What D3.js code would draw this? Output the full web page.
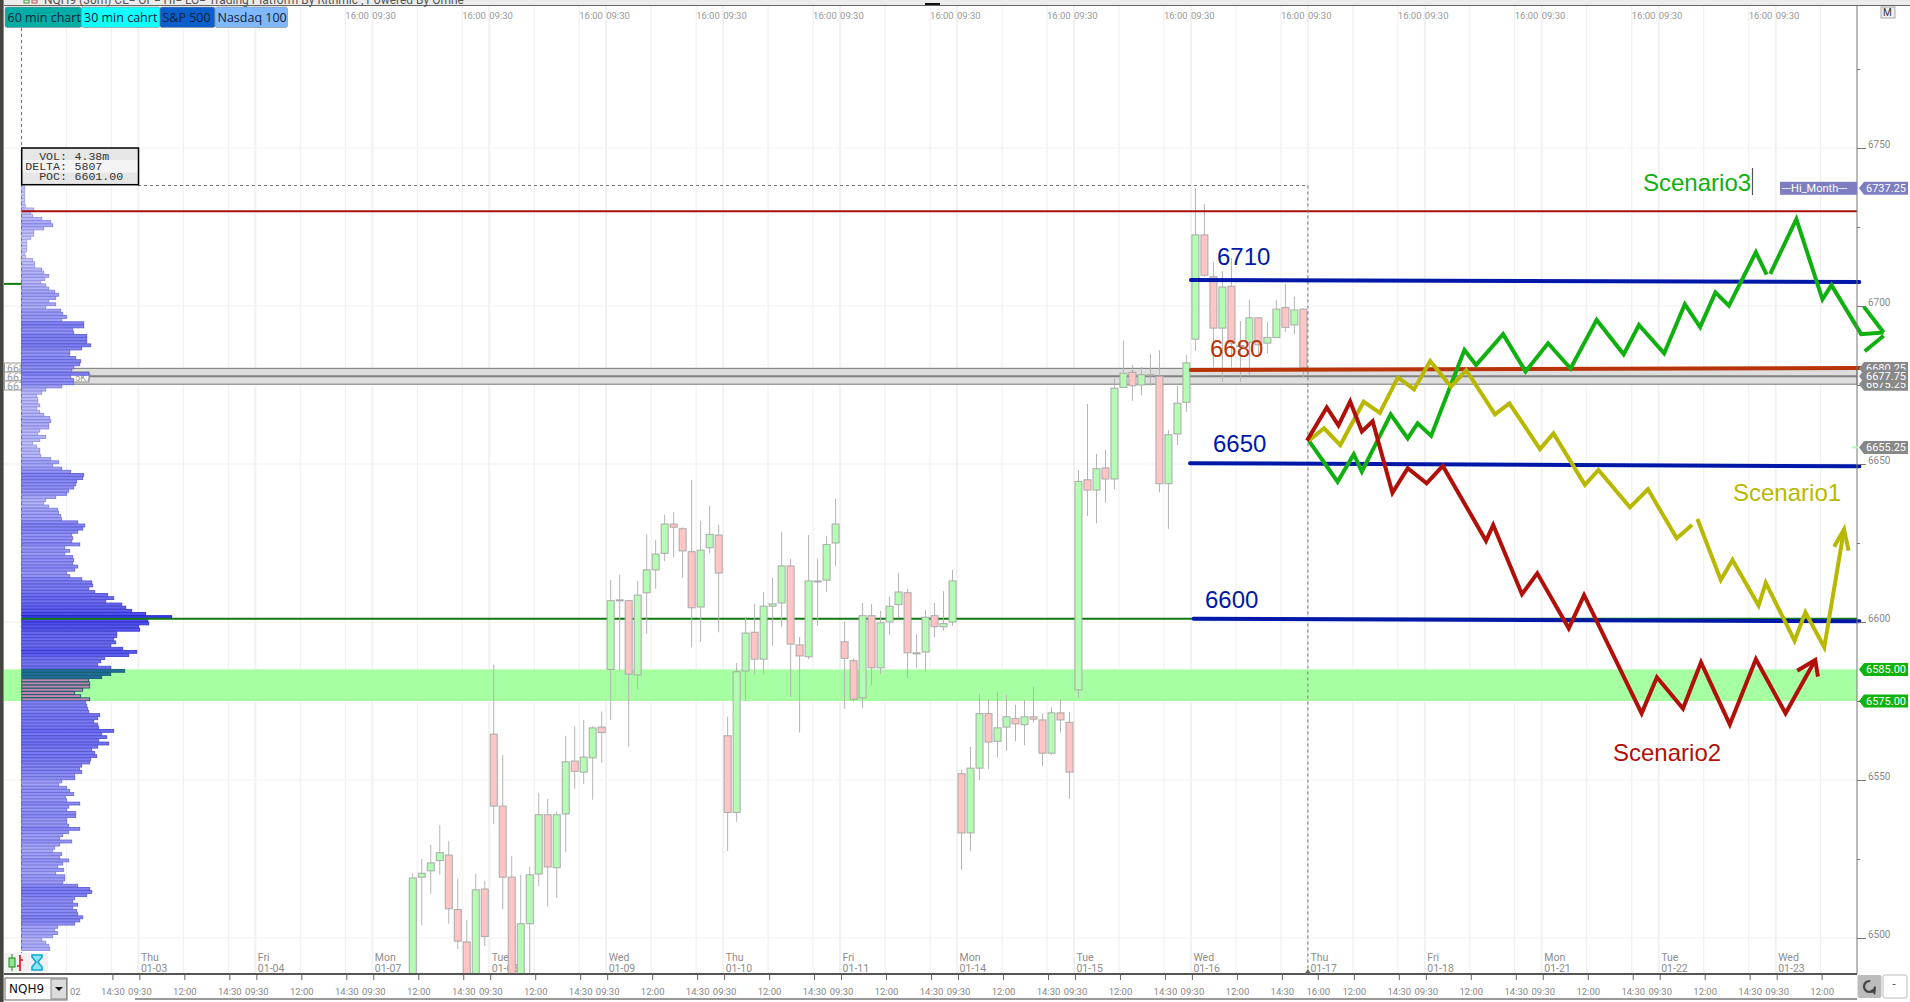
<!DOCTYPE html>
<html>
<head>
<meta charset="utf-8">
<title>NQH9 30 min scenarios</title>
<style>
  html, body { margin: 0; padding: 0; background: #fff; }
  svg { display: block; }
  text { font-family: Roboto, "Liberation Sans", sans-serif; }
  .note { font-family: "Liberation Sans", sans-serif; font-size: 24px; }
  .mono { font-family: "Liberation Mono", monospace; font-size: 11.6px; fill: #333; }
</style>
<script src="https://d3js.org/d3.v7.min.js"></script>
</head>
<body>
<svg id="chart" width="1910" height="1002"></svg>
<script>
// sessions on the time axis, 13 bars of 30 min each, index 0 = 01-03 09:30
const dayNames = ["Thu","Fri","Mon","Tue","Wed","Thu","Fri","Mon","Tue","Wed","Thu","Fri","Mon","Tue","Wed"];
const dayDates = ["01-03","01-04","01-07","01-08","01-09","01-10","01-11","01-14","01-15","01-16","01-17","01-18","01-21","01-22","01-23"];
const sessionTimes = ["09:30","12:00","14:30"];
const sessionOffsets = [0, 5, 10];
const priceLabels = [6500, 6550, 6600, 6650, 6700, 6750];
const priceMinor = [6525, 6575, 6625, 6675, 6725, 6775];

// candles: open, high, low, close
const firstBar = 30;
const bars0107 = [
  [6480.5,6520.5,6480,6519],[6519.25,6525,6504,6520.5],[6521.25,6529.5,6514,6523.75],[6524.5,6535.75,6520,6527],
  [6526.25,6530.75,6504.5,6509.25],[6509,6518.75,6496.5,6499],[6498.75,6505.75,6480,6483.5],[6485,6520.25,6480,6515.25],
  [6515.5,6518,6497.5,6500.5]];
const bars0108 = [
  [6564.5,6586.5,6536,6541.75],[6541.75,6558,6509,6519.25],[6519.25,6526,6480,6482],[6482,6520,6480,6504.5],
  [6504.5,6522.5,6480,6520],[6520.25,6546,6516.5,6539],[6539,6544,6510,6522.5],[6522.25,6540,6512.75,6539],
  [6539.25,6564,6527.25,6555.75],[6556,6567,6547.25,6552.75],[6552.5,6569,6548.75,6557.25],[6557,6567,6543.75,6566.5],
  [6566.75,6571.75,6555.5,6565]];
const bars0109 = [
  [6585,6613.25,6569,6606.75],[6606.75,6615,6584.75,6607],[6606.75,6607,6560.5,6583.5],[6583.25,6613,6578.75,6608.5],
  [6609.25,6627.75,6596.25,6616.5],[6616.5,6626,6610.5,6621.5],[6621.75,6634,6619.25,6631],[6631,6634.75,6620.5,6630],
  [6629.5,6630,6614,6622.5],[6622.25,6645,6592,6604.5],[6604.75,6632,6593.75,6622.75],[6623.5,6636.75,6621.75,6627.75],
  [6627.5,6630.75,6596.75,6615.5]];
const bars0110 = [
  [6564,6570,6527.5,6539.75],[6539.75,6587,6536.75,6584.25],[6584.5,6601.5,6575,6596.5],[6596.75,6605.75,6583.5,6588.25],
  [6588.25,6609.5,6583.5,6605],[6605,6614,6592.5,6605.75],[6606,6628.5,6598.5,6617.75],[6617.75,6620,6576.25,6593],
  [6592.75,6595.25,6565,6589.25],[6589,6627.5,6588.25,6613],[6613,6620,6598.75,6612.75],[6613.25,6627.25,6609.5,6624.5],
  [6625,6639,6617.75,6631]];
const bars0111 = [
  [6593.75,6600.25,6572.5,6588.5],[6587.75,6588.5,6574.75,6575.5],[6576,6606,6572.75,6602],[6602,6605.75,6580,6585.5],
  [6585.5,6603.5,6583.5,6599.75],[6600,6608,6596,6605],[6605.5,6615.5,6601.25,6609.5],[6609.25,6610.5,6582.25,6590.25],
  [6590.25,6596,6585.5,6590],[6590.5,6603.75,6584.25,6601.5],[6602,6606,6595.25,6598.5],[6598.5,6609.75,6597.25,6599.5],
  [6600,6616.5,6598.75,6613]];
const bars0114 = [
  [6552,6553.25,6521.5,6533.25],[6533.25,6560.5,6527.5,6553.75],[6553.75,6577.25,6550,6571],[6571,6575.5,6553.5,6562],
  [6562.25,6577.75,6557.25,6566.5],[6566.75,6577,6559.25,6570],[6569.5,6573.75,6562.25,6567.75],[6567.5,6575.25,6561,6570],
  [6570,6579.5,6568.25,6569.25],[6569,6571,6554.5,6558.5],[6558.5,6573,6558,6571.25],[6571.25,6575.5,6565,6569],
  [6568.25,6571.5,6544,6552.5]];
const bars0115 = [
  [6578.5,6648,6576,6644.5],[6645,6669,6633.5,6641.75],[6641.75,6653.25,6631.25,6648.5],[6648.75,6654.5,6637.75,6645.25],
  [6645.25,6677,6642,6674],[6674.25,6689,6674,6678.75],[6679,6681.25,6670,6674.75],[6675,6680.75,6671.75,6678.25],
  [6678.25,6684.75,6674.75,6678],[6677.75,6686,6641,6643.75],[6643.75,6660.75,6629.5,6659.25],[6659.5,6674.75,6656,6669.25],
  [6669.5,6684.5,6666.5,6682]];
const bars0116 = [
  [6689.5,6737.25,6685.75,6722.5],[6722.5,6732.25,6709.25,6709.75],[6709.25,6714,6680.5,6693],[6693,6711,6676,6706],
  [6706.25,6715.25,6680.5,6688.25],[6687.5,6695.25,6676,6687.25],[6688.5,6702,6678.25,6696.25],[6696.25,6696.5,6684,6687.75],
  [6688.25,6695,6685,6690],[6690,6702,6690,6699],[6699.5,6707,6691.75,6693.25],[6694,6703,6691,6698.75],
  [6699,6699.25,6677.25,6680.5]];

// volume profile, one row per point going down from 6738, relative volume
const profileTop = 6738;
const profileVol = [
  3,3,3,3,3,3,4,12,9,11,20,29,31,22,12,12,9,5,5,5,5,3,4,11,13,13,20,22,27,23,19,24,27,33,37,34,27,34,24,39,41,45,40,62,62,51,52,65,65,
  65,69,60,48,48,54,59,58,52,50,67,49,52,52,40,24,20,15,16,16,18,15,18,22,28,29,27,27,18,16,24,18,11,15,18,18,19,29,37,31,
  40,49,62,61,55,54,52,47,45,34,24,22,27,36,37,39,40,56,63,61,56,50,51,50,58,43,48,43,51,52,51,56,53,45,48,60,70,71,67,73,
  86,92,84,100,104,110,124,150,126,127,117,118,95,95,92,94,89,101,115,107,83,79,76,89,
  103,89,80,67,68,68,61,53,59,68,
  64,65,66,67,78,76,72,76,77,92,80,85,77,87,76,70,73,75,69,68,60,58,60,53,53,40,37,45,48,52,44,45,58,47,45,54,54,45,45,47,
  58,47,41,38,50,38,33,31,40,38,47,41,36,42,34,43,43,41,56,68,70,65,53,51,56,51,55,56,61,58,53,36,33,36,31,20,24,27,28];
const tealRows = [153, 154, 155];
const pinkRows = [156, 157, 158, 159, 160, 161, 162];

// levels
const bandLow = 6575, bandHigh = 6585;
const monthHigh = 6730;
const pocPrice = 6601;
const greyLow = 6675.25, greyMid = 6677.75, greyHigh = 6680.25;

// hand drawn lines: [bar index, price]
const line6710 = [[117, 6708.25], [191.3, 6707.6]];
const line6680 = [[117, 6679.75], [191.4, 6680.4]];
const line6650 = [[116.9, 6650.25], [191.3, 6649.25]];
const line6600 = [[117.3, 6601], [191.3, 6600.25]];

const scenario3a = [[130.1,6657.4],[133.3,6644.4],[135.1,6653.1],[136,6647.6],[139.2,6665.7],[141.1,6658.1],[142.2,6662.9],[143.7,6658.9],
  [147.4,6686.1],[148.7,6681.3],[151.7,6691.1],[154.2,6679.3],[156.7,6688.2],[159.2,6680.2],[162.1,6695.6],[165.1,6684.7],[166.8,6694],
  [169.6,6685],[171.9,6700.6],[173.6,6693.3],[175.3,6704.3],[176.8,6700.1],[179.8,6717],[181,6709.9]];
const scenario3b = [[181.4,6710.2],[184.3,6727.5],[187.2,6702.1],[188.2,6706.6],[191.5,6691.1],[194,6691.6]];
const scenario3h1 = [[191.8,6699.8],[194,6691.6]];
const scenario3h2 = [[191.9,6685.7],[194,6690.6]];

const scenario1a = [[130.1,6657.4],[131.8,6661.3],[133.6,6656],[136.2,6669.7],[138,6666.2],[140,6677.4],[141.8,6673.6],[143.6,6682.6],
  [145.9,6674.5],[147.6,6679.7],[150.8,6665.7],[152.4,6669.2],[155.8,6654.7],[157.3,6659.7],[160.8,6643.4],[162.3,6648.1],[165.8,6636.3],
  [167.8,6642],[171,6626.5],[172.7,6630.7]];
const scenario1b = [[173.3,6632.6],[175.9,6613.3],[177.2,6619.6],[180.1,6605.2],[180.9,6612.4],[184.1,6594.1],[185.3,6603.1],[187.4,6592],[189.6,6629.3]];
const scenario1h = [[188.5,6623.8],[189.6,6629.3],[190.1,6622.6]];

const scenario2a = [[129.9,6657.4],[132.1,6667.9],[133.4,6662.2],[134.7,6669.8],[136,6660.3],[137.2,6663.5],[139.4,6640.9],[141.1,6648.7],
  [143.2,6643.9],[145,6649.4],[149.8,6625.7],[150.6,6630.7],[153.8,6608.8],[155.5,6615.4],[159,6598],[160.7,6608.5],[167.1,6571.1],
  [168.8,6582.5],[171.7,6572.6],[173.7,6587.2],[176.9,6567.6],[179.8,6588.2],[183.1,6571.1],[186.4,6588]];
const scenario2h = [[184.4,6584.6],[186.4,6588],[186.7,6582.7]];

const blue = "#0018a8", lineRed = "#b01008", lineGreen = "#10b010", lineYellow = "#b8b800", rust = "#b83408";

const plotLeft = 4, plotRight = 1857, plotTop = 6, axisY = 974;
const svg = d3.select("#chart");

const x = d3.scaleLinear().domain([0, 195]).range([138.4, 138.4 + 8.996 * 195]);
const y = d3.scaleLinear().domain([6500, 6750]).range([938, 148]);
const volX = d3.scaleLinear().domain([0, 150]).range([21.7, 171.7]);
const volFill = d3.scaleLinear().domain([0, 60, 150]).range(["#cfcffb", "#8686f7", "#3a3aef"]);
const volStroke = d3.scaleLinear().domain([0, 60, 150]).range(["#a8a8e6", "#6262d2", "#2222c0"]);
const path = d3.line().x(d => x(d[0])).y(d => y(d[1]));

svg.append("defs").append("clipPath").attr("id", "plot")
  .append("rect").attr("x", plotLeft).attr("y", plotTop).attr("width", plotRight - plotLeft).attr("height", axisY - plotTop);

// window frame
svg.append("rect").attr("width", 1910).attr("height", 1002).attr("fill", "#fff");
svg.append("rect").attr("x", 0).attr("y", 0).attr("width", 3).attr("height", 1002).attr("fill", "#45453f");
svg.append("rect").attr("x", 3).attr("y", 0).attr("width", 1).attr("height", 1002).attr("fill", "#8a8a84");
svg.append("rect").attr("x", 4).attr("y", 0).attr("width", 1906).attr("height", 5).attr("fill", "#ececec");
svg.append("line").attr("x1", 4).attr("x2", 1910).attr("y1", 5.5).attr("y2", 5.5).attr("stroke", "#666");
svg.append("text").attr("x", 44).attr("y", 4).attr("font-size", 12).attr("fill", "#555")
  .text("NQH9 (30m)   CL=   OP=   HI=   LO=     Trading Platform By Rithmic   , Powered By Omne");
svg.append("rect").attr("x", 24).attr("y", 0).attr("width", 5).attr("height", 3).attr("fill", "none").attr("stroke", "#3a9a3a");
svg.append("rect").attr("x", 32).attr("y", 0).attr("width", 5).attr("height", 3).attr("fill", "none").attr("stroke", "#c05050");
svg.append("rect").attr("x", 925).attr("y", 3).attr("width", 15).attr("height", 2).attr("fill", "#111");

// grid
const gridX = [];
d3.range(-1, 15).forEach(k => sessionOffsets.forEach(o => gridX.push({ bar: k * 13 + o, day: o === 0 })));
const g = svg.append("g").attr("clip-path", "url(#plot)");
g.selectAll("line.v").data(gridX).join("line").attr("class", "v")
  .attr("x1", d => x(d.bar)).attr("x2", d => x(d.bar)).attr("y1", plotTop).attr("y2", axisY)
  .attr("stroke", "#f1f1f1").attr("stroke-width", d => d.day ? 2 : 1.2);
g.selectAll("line.h").data(priceLabels).join("line").attr("class", "h")
  .attr("x1", plotLeft).attr("x2", plotRight).attr("y1", d => y(d)).attr("y2", d => y(d))
  .attr("stroke", "#f1f1f1").attr("stroke-width", 1.2);

// day labels and top time labels
const days = svg.append("g").attr("fill", "#8c8c8c").attr("font-size", 10.5);
dayNames.forEach((d, k) => {
  days.append("text").attr("x", x(k * 13) + 2.5).attr("y", 960.5).text(d);
  days.append("text").attr("x", x(k * 13) + 2.5).attr("y", 972).text(dayDates[k]);
});
const topTimes = svg.append("g").attr("fill", "#999").attr("font-size", 9.5);
d3.range(2, 15).forEach(k => {
  topTimes.append("text").attr("x", x(k * 13 - 3)).attr("y", 19).text("16:00");
  topTimes.append("text").attr("x", x(k * 13)).attr("y", 19).text("09:30");
});

// zones
svg.append("rect").attr("x", plotLeft).attr("width", plotRight - plotLeft)
  .attr("y", y(bandHigh)).attr("height", y(bandLow) - y(bandHigh)).attr("fill", "#a6ffa0");
svg.append("rect").attr("x", 21.7).attr("width", plotRight - 21.7)
  .attr("y", y(greyHigh)).attr("height", y(greyLow) - y(greyHigh))
  .attr("fill", "#dedede").attr("stroke", "#888").attr("stroke-width", 1.2);
svg.append("line").attr("x1", 21.7).attr("x2", plotRight).attr("y1", y(greyMid)).attr("y2", y(greyMid))
  .attr("stroke", "#808080").attr("stroke-width", 2);

// clipped left price tags and value box behind the profile
["668", "667", "667"].forEach((d, i) => {
  const cy = 367.5 + i * 9;
  svg.append("rect").attr("x", 4.5).attr("y", cy - 4.5).attr("width", 17).attr("height", 9)
    .attr("fill", "#fff").attr("stroke", "#999");
  svg.append("text").attr("x", 7).attr("y", cy + 4).attr("font-size", 10.5).attr("fill", "#999").text(d);
});
svg.append("rect").attr("x", 66).attr("y", 372).attr("width", 23).attr("height", 10)
  .attr("fill", "#fff").attr("stroke", "#888");
svg.append("text").attr("x", 75).attr("y", 381).attr("font-size", 9.5).attr("fill", "#999").text("5K7");

// volume profile
svg.append("g").selectAll("rect").data(profileVol).join("rect")
  .attr("x", volX(0))
  .attr("y", (d, i) => y(profileTop - i))
  .attr("width", d => volX(d) - volX(0))
  .attr("height", (d, i) => y(profileTop - i - 1) - y(profileTop - i) - 0.3)
  .attr("fill", (d, i) => tealRows.includes(i) ? "#226c9c" : pinkRows.includes(i) ? "#c684ad" : volFill(d))
  .attr("stroke", (d, i) => tealRows.includes(i) || pinkRows.includes(i) ? "#146070" : volStroke(d))
  .attr("stroke-width", 0.9);

// point of control, behind the candles
svg.append("line").attr("x1", 21.7).attr("x2", plotRight).attr("y1", y(pocPrice)).attr("y2", y(pocPrice))
  .attr("stroke", "#0f7a0f").attr("stroke-width", 2);
svg.append("line").attr("x1", plotLeft).attr("x2", 21.7).attr("y1", y(6707)).attr("y2", y(6707))
  .attr("stroke", "#0f7a0f").attr("stroke-width", 2);

// candles
const allBars = [].concat(bars0107, bars0108, bars0109, bars0110, bars0111, bars0114, bars0115, bars0116);
const candles = svg.append("g").attr("clip-path", "url(#plot)")
  .selectAll("g").data(allBars).join("g")
  .attr("transform", (d, i) => `translate(${x(firstBar + i + 0.5)},0)`);
candles.append("line")
  .attr("y1", d => y(d[1])).attr("y2", d => y(d[2]))
  .attr("stroke", "#b4b4b4").attr("stroke-width", 1);
candles.append("rect")
  .attr("x", -3.5).attr("width", 7)
  .attr("y", d => y(Math.max(d[0], d[3])))
  .attr("height", d => Math.max(1, Math.abs(y(d[0]) - y(d[3]))))
  .attr("fill", d => d[3] >= d[0] ? "#b4fbb4" : "#ffc4c4")
  .attr("stroke", "#aaa").attr("stroke-width", 1);

// month high line
svg.append("line").attr("x1", 21.7).attr("x2", plotRight).attr("y1", y(monthHigh)).attr("y2", y(monthHigh))
  .attr("stroke", "#a80e0e").attr("stroke-width", 2);

// session outline
const dash = svg.append("g").attr("stroke", "#777").attr("stroke-dasharray", "3,3").attr("fill", "none");
dash.append("line").attr("x1", 21.5).attr("x2", 21.5).attr("y1", 28).attr("y2", 972);
dash.append("line").attr("x1", 138).attr("x2", x(130)).attr("y1", 185.5).attr("y2", 185.5);
dash.append("line").attr("x1", x(130)).attr("x2", x(130)).attr("y1", 185.5).attr("y2", axisY);

// hand drawn levels
[[line6710, blue], [line6650, blue], [line6600, blue], [line6680, rust]].forEach(d => {
  svg.append("path").attr("d", path(d[0])).attr("fill", "none").attr("stroke", d[1])
    .attr("stroke-width", 4).attr("stroke-linecap", "round");
});

// scenario paths
[[scenario3a, lineGreen], [scenario3b, lineGreen], [scenario3h1, lineGreen], [scenario3h2, lineGreen],
 [scenario1a, lineYellow], [scenario1b, lineYellow], [scenario1h, lineYellow],
 [scenario2a, lineRed], [scenario2h, lineRed]].forEach(d => {
  svg.append("path").attr("d", path(d[0])).attr("fill", "none").attr("stroke", d[1])
    .attr("stroke-width", 4).attr("stroke-linejoin", "miter");
});

// notes
[["6710", 1217, 264.5, blue], ["6680", 1210, 357, rust], ["6650", 1213, 452, blue], ["6600", 1205, 608, blue],
 ["Scenario3", 1643, 190.5, lineGreen], ["Scenario1", 1733, 501, lineYellow], ["Scenario2", 1613, 761, lineRed]].forEach(d => {
  svg.append("text").attr("class", "note").attr("x", d[1]).attr("y", d[2]).attr("fill", d[3]).text(d[0]);
});
svg.append("line").attr("x1", 1752.5).attr("x2", 1752.5).attr("y1", 168).attr("y2", 195).attr("stroke", "#555").attr("stroke-width", 1.2);

// toolbar buttons
[["60 min chart", 5, 81.5, "#00ada5"], ["30 min cahrt", 81.5, 160, "#12ffff"], ["S&P 500", 160, 215, "#0a5fcc"], ["Nasdaq 100", 215, 287.5, "#7fb8ff"]].forEach(d => {
  svg.append("rect").attr("x", d[1]).attr("y", 7).attr("width", d[2] - d[1]).attr("height", 20.5).attr("rx", 2)
    .attr("fill", d[3]).attr("stroke", "#8a8a8a").attr("stroke-width", 0.6);
  svg.append("text").attr("x", d[1] + 2.5).attr("y", 21.5).attr("font-size", 12.5).attr("fill", "#10233a")
    .style("font-family", "'Open Sans'").text(d[0]);
});

// info box
const info = svg.append("g");
[148, 160.2, 172.4].forEach((t, i) => {
  info.append("rect").attr("x", 21.7).attr("y", t).attr("width", 116.8).attr("height", 12.2).attr("fill", i === 1 ? "#f4f4f4" : "#e6e6e6");
});
info.append("rect").attr("x", 21.7).attr("y", 148).attr("width", 116.8).attr("height", 36.7).attr("fill", "none").attr("stroke", "#000").attr("stroke-width", 1.5);
[["VOL:", "4.38m", 160], ["DELTA:", "5807", 170], ["POC:", "6601.00", 180]].forEach(d => {
  info.append("text").attr("class", "mono").attr("x", 67).attr("y", d[2]).attr("text-anchor", "end").text(d[0]);
  info.append("text").attr("class", "mono").attr("x", 74.5).attr("y", d[2]).text(d[1]);
});

// price axis
svg.append("line").attr("x1", plotRight).attr("x2", plotRight).attr("y1", 6).attr("y2", axisY).attr("stroke", "#777");
const rightAxis = svg.append("g").attr("transform", `translate(${plotRight},0)`)
  .call(d3.axisRight(y).tickValues(priceLabels).tickSize(9).tickPadding(2).tickFormat(d3.format("d")));
rightAxis.select(".domain").remove();
rightAxis.selectAll("line").attr("stroke", "#777");
rightAxis.selectAll("text").attr("fill", "#888").attr("font-size", 10).attr("dy", "-0.05em").style("font-family", "Roboto");
svg.append("g").attr("transform", `translate(${plotRight},0)`)
  .call(d3.axisRight(y).tickValues(priceMinor).tickSize(3).tickFormat(""))
  .call(s => s.select(".domain").remove())
  .selectAll("line").attr("stroke", "#777");

// price flags
const flag = (price, label, fill) => {
  const py = y(price);
  svg.append("path")
    .attr("d", `M1859,${py} L1864,${py - 6.5} H1908 V${py + 6.5} H1864 Z`).attr("fill", fill);
  svg.append("text").attr("x", 1866).attr("y", py + 4).attr("font-size", 11).attr("fill", "#fff").text(label);
};
svg.append("rect").attr("x", 1780).attr("y", y(6737.25) - 6.5).attr("width", 77).attr("height", 13).attr("fill", "#7d7dbf");
svg.append("text").attr("x", 1782).attr("y", y(6737.25) + 4).attr("font-size", 11).attr("fill", "#fff").text("---Hi_Month---");
flag(6737.25, "6737.25", "#7d7dbf");
flag(6680.25, "6680.25", "#888");
flag(6675.25, "6675.25", "#888");
flag(6677.75, "6677.75", "#888");
svg.append("rect").attr("x", 1852).attr("y", y(6655.25) - 1).attr("width", 6).attr("height", 2).attr("fill", "#b4fbb4");
flag(6655.25, "6655.25", "#888");
flag(6585, "6585.00", "#0eb30e");
flag(6575, "6575.00", "#0eb30e");

// time axis
const tickBars = [], tickLabels = {};
d3.range(-1, 15).forEach(k => sessionOffsets.forEach((o, j) => {
  const bar = k * 13 + o + 0.11;
  if (k === 10 && o === 0) return;
  if (k === -1 && o < 10) return;
  if (k === 14 && o === 10) return;
  tickBars.push(bar);
  tickLabels[bar] = sessionTimes[j];
}));
tickBars.push(131.1);
tickLabels[131.1] = "16:00";
const bottomAxis = svg.append("g").attr("transform", `translate(0,${axisY})`)
  .call(d3.axisBottom(x).tickValues(tickBars).tickSize(6).tickPadding(8).tickFormat(d => tickLabels[d]));
bottomAxis.select(".domain").remove();
bottomAxis.selectAll("line").attr("stroke", "#666");
bottomAxis.selectAll("text").attr("fill", "#888").attr("font-size", 9.5).style("font-family", "Roboto");
svg.append("line").attr("x1", plotLeft).attr("x2", plotRight).attr("y1", axisY).attr("y2", axisY).attr("stroke", "#555").attr("stroke-width", 2);
svg.append("path").attr("d", `M${x(130)},${axisY - 5} l-3.5,5 h7 Z`).attr("fill", "#666");
svg.append("text").attr("x", 70).attr("y", 995).attr("font-size", 9.5).attr("fill", "#888").text("02");
svg.append("line").attr("x1", 135).attr("x2", 1857).attr("y1", 999).attr("y2", 999).attr("stroke", "#777").attr("stroke-width", 1.5);

// symbol box
svg.append("rect").attr("x", 5).attr("y", 978).attr("width", 62).attr("height", 22).attr("fill", "#fff").attr("stroke", "#666");
svg.append("text").attr("x", 9).attr("y", 993).attr("font-size", 12).attr("fill", "#111").style("font-family", "'DejaVu Sans'").text("NQH9");
svg.append("rect").attr("x", 51).attr("y", 979).attr("width", 15.5).attr("height", 20).attr("fill", "#dcdcdc").attr("stroke", "#888");
svg.append("path").attr("d", "M55,987 h8 l-4,4 Z").attr("fill", "#111");

// small tool icons
svg.append("rect").attr("x", 5).attr("y", 953).attr("width", 43).attr("height", 19).attr("fill", "#f1f1f1");
svg.append("line").attr("x1", 12).attr("x2", 12).attr("y1", 954).attr("y2", 971).attr("stroke", "#1a8a1a");
svg.append("rect").attr("x", 9).attr("y", 958).attr("width", 6).attr("height", 9).attr("fill", "#8ee88e").attr("stroke", "#1a8a1a");
svg.append("path").attr("d", "M20,971 V955 M20,960 h3 M17,966 h3").attr("stroke", "#e01010").attr("stroke-width", 1.6).attr("fill", "none");
svg.append("path").attr("d", "M32,955 h10 v2 l-4,5 l4,5 v3 h-10 v-3 l4,-5 l-4,-5 Z").attr("fill", "#8fe4f4").attr("stroke", "#10a8d0").attr("stroke-width", 1.6);

// refresh and collapse buttons
svg.append("rect").attr("x", 1857.5).attr("y", 975).attr("width", 24).attr("height", 23).attr("rx", 2).attr("fill", "#bcbcbc");
svg.append("circle").attr("cx", 1869.5).attr("cy", 986.5).attr("r", 5.5).attr("fill", "none").attr("stroke", "#444").attr("stroke-width", 2.2).attr("stroke-dasharray", "26,9");
svg.append("path").attr("d", "M1870,990 l6,-1 l-1,6 Z").attr("fill", "#444");
svg.append("rect").attr("x", 1883).attr("y", 975).attr("width", 24).attr("height", 23).attr("rx", 2).attr("fill", "#fff").attr("stroke", "#bbb");
svg.append("text").attr("x", 1892.5).attr("y", 988).attr("font-size", 11).attr("fill", "#333").text("-");

// corner button
svg.append("rect").attr("x", 1881).attr("y", 7).attr("width", 14).attr("height", 11).attr("fill", "#eee").attr("stroke", "#aaa");
svg.append("text").attr("x", 1883).attr("y", 16).attr("font-size", 10).attr("fill", "#333").text("M");
</script>
</body>
</html>
